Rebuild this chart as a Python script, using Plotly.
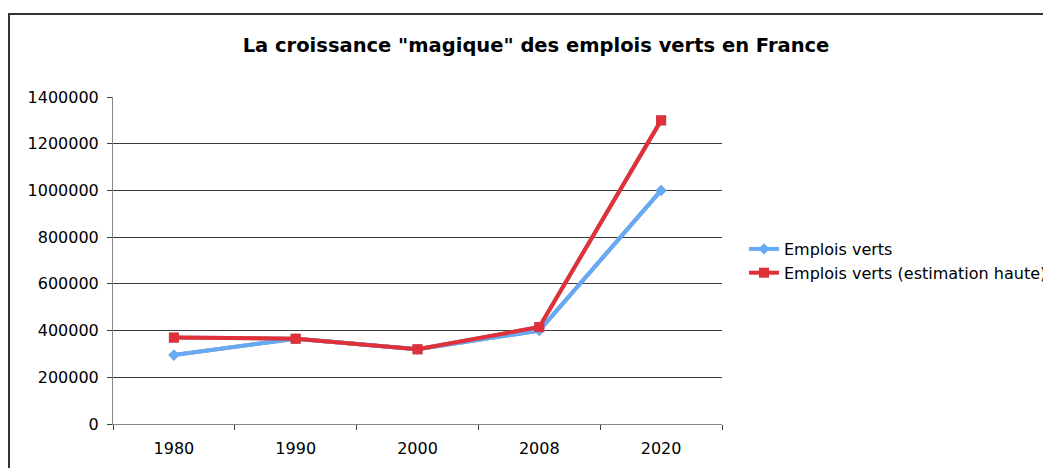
import plotly.graph_objects as go

years = ["1980", "1990", "2000", "2008", "2020"]
emplois_verts = [295000, 365000, 320000, 400000, 1000000]
emplois_verts_haute = [370000, 365000, 320000, 415000, 1300000]
y_ticks = [0, 200000, 400000, 600000, 800000, 1000000, 1200000, 1400000]

# the page body adds an 8px margin, so figure coordinates are offset by 8px
W, H = 1051, 468
ML, MR, MT, MB = 105, 335, 89, 49
PW = W - ML - MR   # 611
PH = H - MT - MB   # 330
DX, DY = 2, 3      # shadow offset in px

BLUE = "#66aaf5"
RED = "#e0303a"
SHADOW = "#808080"
FONT = "DejaVu Sans, Verdana, sans-serif"

main_xdom = [0, (PW - DX) / PW]
main_ydom = [DY / PH, 1]
shad_xdom = [DX / PW, 1]
shad_ydom = [0, (PH - DY) / PH]

fig = go.Figure()

series = [
    (emplois_verts, "Emplois verts", BLUE, "diamond", 8.5),
    (emplois_verts_haute, "Emplois verts (estimation haute)", RED, "square", 10),
]

# shadows (overlay axes x2/y2, shifted by a few pixels)
for vals, name, color, symbol, msize in series:
    fig.add_trace(go.Scatter(
        x=years, y=vals, mode="lines+markers", xaxis="x2", yaxis="y2",
        line=dict(color=SHADOW, width=4), marker=dict(symbol=symbol, size=msize, color=SHADOW),
        showlegend=False, hoverinfo="skip", opacity=0.85))

# coloured series (overlay axes x3/y3, same place as the visible axes)
for vals, name, color, symbol, msize in series:
    fig.add_trace(go.Scatter(
        x=years, y=vals, mode="lines+markers", name=name, xaxis="x3", yaxis="y3",
        line=dict(color=color, width=4), marker=dict(symbol=symbol, size=msize, color=color)))

# invisible trace to make the base axes exist
fig.add_trace(go.Scatter(x=years, y=emplois_verts, mode="none", showlegend=False,
                         hoverinfo="skip", xaxis="x", yaxis="y"))

cat = dict(type="category", categoryorder="array", categoryarray=years, range=[-0.5, 4.5])
yr = dict(range=[0, 1400000])

fig.update_layout(
    width=W, height=H,
    margin=dict(l=ML, r=MR, t=MT, b=MB, pad=0, autoexpand=False),
    paper_bgcolor="white", plot_bgcolor="white",
    font=dict(family=FONT, size=16, color="#000000"),
    title=dict(text='<b>La croissance "magique" des emplois verts en France</b>',
               x=528 / W, xanchor="center", xref="container",
               y=1 - 37 / H, yanchor="middle", yref="container",
               font=dict(family=FONT, size=19.5, color="#000000")),
    xaxis=dict(**cat, domain=main_xdom, anchor="y",
               showgrid=False, zeroline=False, showline=True, linecolor="#868686", linewidth=1,
               ticks="outside", tickson="boundaries", ticklen=5, tickcolor="#404040",
               tickfont=dict(size=16), ticklabelstandoff=10),
    yaxis=dict(**yr, tickvals=y_ticks, ticktext=[str(v) for v in y_ticks],
               domain=main_ydom, anchor="x",
               showgrid=True, gridcolor="#3a3a3a", gridwidth=1, zeroline=False,
               showline=True, linecolor="#868686", linewidth=1,
               ticks="outside", ticklen=5, tickcolor="#404040",
               tickfont=dict(size=16), ticklabelstandoff=5),
    xaxis2=dict(**cat, domain=shad_xdom, overlaying="x", visible=False, anchor="y2"),
    yaxis2=dict(**yr, domain=shad_ydom, overlaying="y", visible=False, anchor="x2"),
    xaxis3=dict(**cat, domain=main_xdom, overlaying="x", visible=False, anchor="y3"),
    yaxis3=dict(**yr, domain=main_ydom, overlaying="y", visible=False, anchor="x3"),
    legend=dict(x=(736 - ML) / PW, xanchor="left", y=(MT + PH - 253) / PH, yanchor="middle",
                xref="paper", yref="paper", font=dict(size=16),
                bgcolor="rgba(0,0,0,0)", tracegroupgap=0, itemwidth=30),
    showlegend=True,
)

# outer chart border (extends beyond the visible window on the right and bottom)
fig.add_shape(type="rect", xref="paper", yref="paper",
              x0=(1 - ML) / PW, x1=(1070 - ML) / PW,
              y0=(MT + PH - 490) / PH, y1=(MT + PH - 6) / PH,
              line=dict(color="#333333", width=2), fillcolor="rgba(0,0,0,0)", layer="below")

fig.write_html("out.html")
